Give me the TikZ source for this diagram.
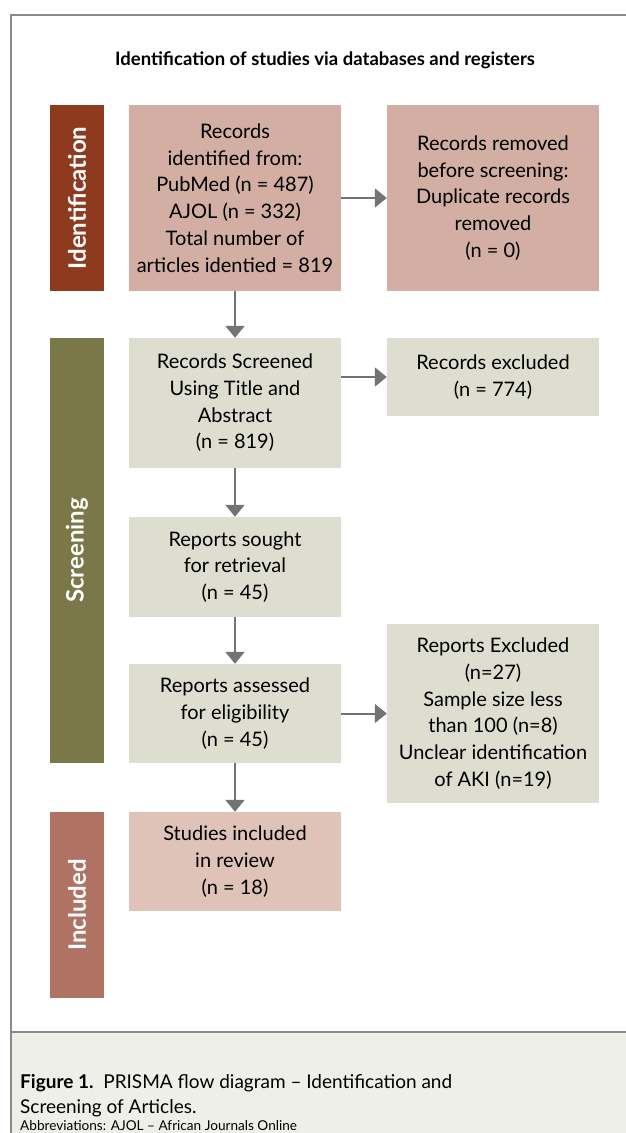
\documentclass[tikz,border=0pt]{standalone}
\usepackage{fontspec}
\setmainfont{Lato}
\usetikzlibrary{arrows.meta}
\definecolor{idband}{HTML}{8E3A1F}
\definecolor{idbox}{HTML}{D3AFA3}
\definecolor{scband}{HTML}{7A7848}
\definecolor{scbox}{HTML}{DDDDD0}
\definecolor{inband}{HTML}{B07262}
\definecolor{inbox}{HTML}{DFC3B8}
\definecolor{arr}{HTML}{737373}
\definecolor{frame}{HTML}{8A8A8A}
\definecolor{capbg}{HTML}{EFEFEA}
\tikzset{
  box/.style={inner sep=0pt, minimum width=212pt, align=center, text=black,
    font=\fontsize{20pt}{26.7pt}\selectfont},
  band/.style={inner sep=0pt, minimum width=54pt},
  bandtext/.style={text=white, rotate=90, font=\fontsize{24pt}{28pt}\selectfont\bfseries},
  flow/.style={draw=arr, line width=2pt, -{Triangle[width=19pt,length=12pt]}}
}
\begin{document}
\begin{tikzpicture}[x=1pt,y=-1pt]
\useasboundingbox (0,0) rectangle (626,1133);
% caption background and frame
\fill[capbg] (11,1032) rectangle (626,1133);
\draw[frame, line width=1.3pt] (626,15) -- (11,15) -- (11,1133);
\draw[frame, line width=1.3pt] (11,1032) -- (626,1032);
% title
\node[font=\fontsize{18.5pt}{22pt}\selectfont\bfseries] (title) at (325,60) {Identification of studies via databases and registers};
% bands
\node[band, fill=idband, minimum height=186pt] (bid) at (77,198) {};
\node[band, fill=scband, minimum height=425pt] (bsc) at (77,550.5) {};
\node[band, fill=inband, minimum height=186pt] (bin) at (77,905) {};
\node[bandtext] (tid) at (bid.center) {Identification};
\node[bandtext] (tsc) at (bsc.center) {Screening};
\node[bandtext] (tin) at (bin.center) {Included};
% boxes
\node[box, fill=idbox, minimum height=186pt] (recid) at (235,198) {Records\\identified from:\\PubMed (n = 487)\\AJOL (n = 332)\\Total number of\\articles identied = 819};
\node[box, fill=idbox, minimum height=186pt] (recrem) at (493,198) {Records removed\\before screening:\\Duplicate records\\removed\\(n = 0)};
\node[box, fill=scbox, minimum height=130pt] (recscr) at (235,403) {Records Screened\\Using Title and\\Abstract\\(n = 819)};
\node[box, fill=scbox, minimum height=78pt] (recexc) at (493,377) {Records excluded\\(n = 774)};
\node[box, fill=scbox, minimum height=100pt] (sought) at (235,567) {Reports sought\\for retrieval\\(n = 45)};
\node[box, fill=scbox, minimum height=99pt] (assess) at (235,713.5) {Reports assessed\\for eligibility\\(n = 45)};
\node[box, fill=scbox, minimum height=179pt] (repexc) at (493,713.5) {Reports Excluded\\(n=27)\\Sample size less\\than 100 (n=8)\\Unclear identification\\of AKI (n=19)};
\node[box, fill=inbox, minimum height=99pt] (incl) at (235,861.5) {Studies included\\in review\\(n = 18)};
% arrows
\draw[flow] (recid) -- (recscr);
\draw[flow] (recscr) -- (sought);
\draw[flow] (sought) -- (assess);
\draw[flow] (assess) -- (incl);
\draw[flow] (recid) -- (recrem);
\draw[flow] (recscr.east |- recexc.west) -- (recexc.west);
\draw[flow] (assess) -- (repexc);
% caption
\node[anchor=base west, inner sep=0pt, font=\fontsize{19pt}{24pt}\selectfont] (cap1) at (20,1088) {\textbf{Figure 1.}\ \ PRISMA flow diagram – Identification and};
\node[anchor=base west, inner sep=0pt, font=\fontsize{19pt}{24pt}\selectfont] (cap2) at (20,1113) {Screening of Articles.};
\node[anchor=base west, inner sep=0pt, font=\fontsize{13.6pt}{16pt}\selectfont] (cap3) at (20,1130) {Abbreviations: AJOL – African Journals Online};
\end{tikzpicture}
\end{document}
